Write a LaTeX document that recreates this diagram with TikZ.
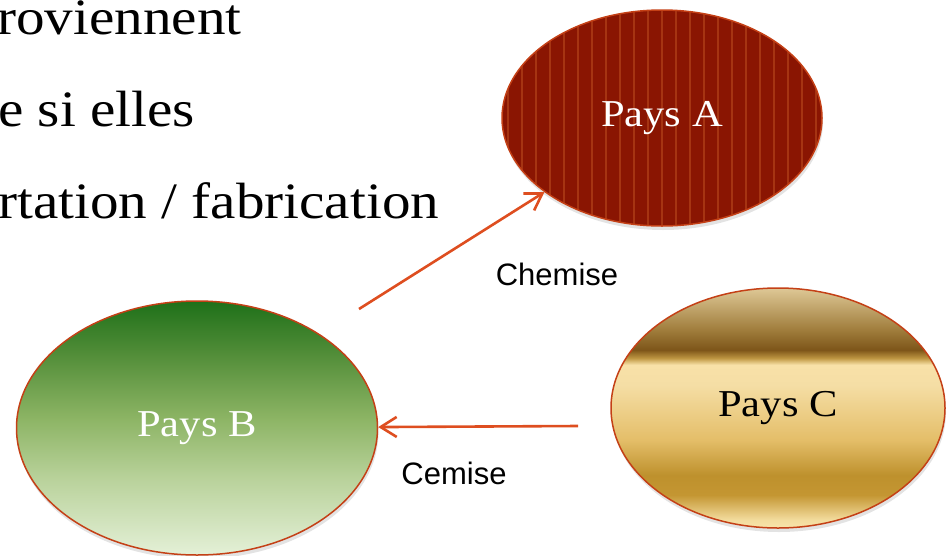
\documentclass[tikz,border=0pt]{standalone}
\usepackage{fontspec}
\setmainfont{Liberation Serif}
\newfontfamily\goudy[FakeStretch=1.12]{Liberation Serif}
\newfontfamily\fluxfont{Liberation Sans}
\usepackage{tikz}
\usetikzlibrary{shapes.geometric,shadows,arrows.meta}

\definecolor{edgeRed}{RGB}{196,64,22}
\definecolor{arrowRed}{RGB}{222,78,32}
\definecolor{paysAfill}{RGB}{138,21,2}
\definecolor{paysAstripe}{RGB}{166,52,18}
\definecolor{greenTop}{RGB}{30,112,25}
\definecolor{greenHigh}{RGB}{80,140,55}
\definecolor{greenMid}{RGB}{140,180,100}
\definecolor{greenLow}{RGB}{185,210,155}
\definecolor{greenBot}{RGB}{228,240,215}
\definecolor{goldTop}{RGB}{222,200,150}
\definecolor{goldMid}{RGB}{160,125,60}
\definecolor{goldDark}{RGB}{125,85,25}
\definecolor{goldEdge}{RGB}{190,150,65}
\definecolor{goldLight}{RGB}{248,225,168}
\definecolor{goldPale}{RGB}{245,222,165}
\definecolor{goldWarm}{RGB}{228,190,105}
\definecolor{goldDeep}{RGB}{190,145,45}
\definecolor{goldDeep2}{RGB}{196,150,50}
\definecolor{goldFoot}{RGB}{243,220,158}
\definecolor{goldBot}{RGB}{248,228,170}

\pgfdeclareverticalshading{paysBgreen}{100bp}{color(0bp)=(greenBot); color(25bp)=(greenBot);
  color(40bp)=(greenLow); color(52bp)=(greenMid); color(65bp)=(greenHigh);
  color(75bp)=(greenTop); color(100bp)=(greenTop)}
\pgfdeclareverticalshading{paysCgold}{100bp}{color(0bp)=(goldBot); color(25bp)=(goldBot);
  color(26.7bp)=(goldFoot); color(31.9bp)=(goldDeep2); color(36bp)=(goldDeep);
  color(43.4bp)=(goldWarm); color(54.8bp)=(goldPale); color(59bp)=(goldLight);
  color(60.4bp)=(goldEdge); color(62.1bp)=(goldDark); color(66.3bp)=(goldMid);
  color(75bp)=(goldTop); color(100bp)=(goldTop)}

\begin{document}
\begin{tikzpicture}[x=1pt,y=-1pt]
 \tikzstyle{arrow} = [-{Straight Barb[length=16pt,width=20pt]},line width=2.6pt,draw=arrowRed];
 \tikzstyle{pays}  = [ellipse,draw=edgeRed,line width=1.5pt,inner sep=0pt,
                      font=\goudy\fontsize{38}{44}\selectfont,
                      drop shadow={opacity=0.22,shadow xshift=1pt,shadow yshift=-4pt}];
 \tikzstyle{titre} = [anchor=base west,inner sep=0pt,font=\goudy\fontsize{51}{60}\selectfont];
 \tikzstyle{flux}  = [inner sep=0pt,font=\fluxfont\fontsize{31}{36}\selectfont];

 \useasboundingbox (0,0) rectangle (950,555);

 %% text of the slide
 \node[titre, name = ligne1] at (-3,34)  {roviennent};
 \node[titre, name = ligne2] at (-2,126) {e si elles};
 \node[titre, name = ligne3] at (-2,218) {rtation / fabrication};

 %% pays [A]
 \node[pays, name = paysA, minimum width=320pt, minimum height=216pt,
       fill=paysAfill, text=white,
       path picture={
         \foreach \k in {-12,...,12}
           \draw[paysAstripe,line width=2pt]
             ([xshift=\k*14pt]path picture bounding box.north) --
             ([xshift=\k*14pt]path picture bounding box.south);
       }] at (662,118) {Pays A};

 %% pays [B]
 \node[pays, name = paysB, minimum width=361pt, minimum height=254pt,
       shading=paysBgreen, text=white] at (197,428) {Pays B};

 %% pays [C]
 \node[pays, name = paysC, minimum width=334pt, minimum height=240pt,
       shading=paysCgold, text=black] at (778,408) {Pays C};

 \coordinate (depart1) at (359,309);
 \coordinate (depart2) at (578,426);

 \path (depart1) edge [arrow] (paysA);
 \path (depart2) edge [arrow] (paysB);

 \node[flux, name = chemise] at (557,274) {Chemise};
 \node[flux, name = cemise]  at (454,473) {Cemise};

\end{tikzpicture}
\end{document}
